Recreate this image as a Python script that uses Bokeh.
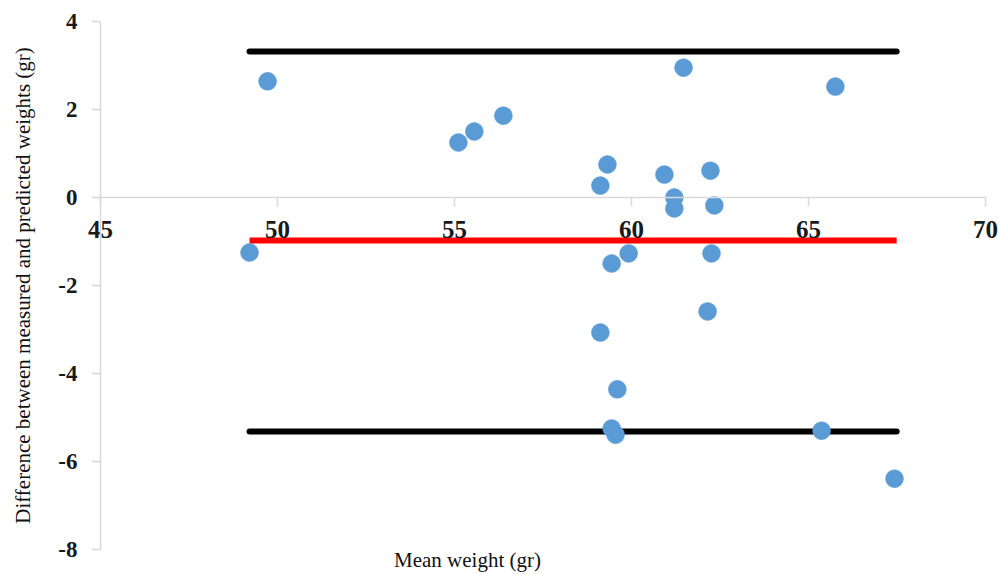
from bokeh.plotting import figure
from bokeh.models import ColumnDataSource, Label, FixedTicker, LinearAxis, Range1d
from bokeh.embed import file_html
from bokeh.resources import INLINE

# ---- data ----
mean_weight = [49.72, 49.21, 55.11, 55.56, 56.38, 59.32, 59.12, 59.44, 59.92, 59.12,
               59.60, 59.44, 59.55, 60.93, 61.21, 61.21, 61.47, 62.23, 62.34, 62.26,
               62.15, 65.76, 65.37, 67.43]
difference = [2.64, -1.25, 1.25, 1.50, 1.86, 0.75, 0.27, -1.50, -1.27, -3.07,
              -4.36, -5.25, -5.39, 0.52, 0.00, -0.25, 2.95, 0.61, -0.18, -1.27,
              -2.59, 2.52, -5.30, -6.39]
upper_loa = 3.32
mean_diff = -0.98
lower_loa = -5.32

x_ticks = [45, 50, 55, 60, 65, 70]
y_ticks = [-8, -6, -4, -2, 0, 2, 4]
y_tick_labels = ["-8", "-6", "-4", "-2", "0", "2", "4"]
x_axis_bounds = (45, 70)
y_axis_bounds = (-8, 4)

SERIF = "Liberation Serif"
AXIS_GREY = "#d9d9d9"
TEXT = "#1a1a1a"

# ---- layout: pixel positions of the axis bounds inside a 1000x574 canvas ----
W, H = 1000, 574
PX_X0, PX_X1 = 100, 985      # x = 45, x = 70
PX_Y_TOP, PX_Y_BOT = 21, 549  # y = 4, y = -8

sx = (PX_X1 - PX_X0) / (x_axis_bounds[1] - x_axis_bounds[0])
sy = (PX_Y_BOT - PX_Y_TOP) / (y_axis_bounds[1] - y_axis_bounds[0])
x_range = Range1d(x_axis_bounds[0] - PX_X0 / sx, x_axis_bounds[1] + (W - PX_X1) / sx)
y_range = Range1d(y_axis_bounds[0] - (H - PX_Y_BOT) / sy, y_axis_bounds[1] + PX_Y_TOP / sy)

p = figure(width=W, height=H, x_range=x_range, y_range=y_range,
           output_backend="svg", toolbar_location=None,
           x_axis_location=None,
           min_border_left=0, min_border_right=0,
           min_border_top=0, min_border_bottom=0)
p.grid.visible = False
p.outline_line_color = None
p.background_fill_color = "white"
p.border_fill_color = "white"

# y axis, crossing at x = 45
ya = p.yaxis[0]
ya.fixed_location = x_axis_bounds[0]
ya.bounds = y_axis_bounds
ya.ticker = FixedTicker(ticks=y_ticks)
ya.major_label_overrides = {t: s for t, s in zip(y_ticks, y_tick_labels)}
ya.major_label_text_font = SERIF
ya.major_label_text_font_style = "bold"
ya.major_label_text_font_size = "23px"
ya.major_label_text_color = TEXT
ya.major_label_standoff = 14
ya.major_tick_out = 9
ya.major_tick_in = 0
ya.minor_tick_out = 0
ya.minor_tick_in = 0
ya.axis_line_color = AXIS_GREY
ya.axis_line_width = 1.5
ya.major_tick_line_color = AXIS_GREY
ya.major_tick_line_width = 1.5
ya.axis_label = "Difference between measured and predicted weights (gr)"
ya.axis_label_text_font = SERIF
ya.axis_label_text_font_style = "normal"
ya.axis_label_text_font_size = "21px"
ya.axis_label_text_color = "#111111"
ya.axis_label_standoff = 20

# x axis, crossing at y = 0
xa = LinearAxis(fixed_location=0, bounds=x_axis_bounds, ticker=FixedTicker(ticks=x_ticks))
xa.major_label_text_font = SERIF
xa.major_label_text_font_style = "bold"
xa.major_label_text_font_size = "25px"
xa.major_label_text_color = TEXT
xa.major_label_standoff = 14
xa.major_tick_out = 9
xa.major_tick_in = 0
xa.minor_tick_out = 0
xa.minor_tick_in = 0
xa.axis_line_color = AXIS_GREY
xa.axis_line_width = 1.5
xa.major_tick_line_color = AXIS_GREY
xa.major_tick_line_width = 1.5
p.add_layout(xa, "below")

# limits of agreement and mean difference
x_lo, x_hi = min(mean_weight), max(mean_weight) + 0.06
p.segment(x0=[x_lo, x_lo], y0=[upper_loa, lower_loa], x1=[x_hi, x_hi], y1=[upper_loa, lower_loa],
          line_color="black", line_width=6, line_cap="round")
p.segment(x0=[x_lo], y0=[mean_diff], x1=[x_hi], y1=[mean_diff],
          line_color="#ff0000", line_width=6, line_cap="butt")

# points
src = ColumnDataSource(dict(x=mean_weight, y=difference))
p.scatter("x", "y", source=src, size=18, fill_color="#5b9bd5", line_color="#5b9bd5", line_width=0.5)

# x axis title
p.add_layout(Label(x=x_axis_bounds[0] + (467 - PX_X0) / sx, y=y_axis_bounds[0] - (559 - PX_Y_BOT) / sy,
                   text="Mean weight (gr)", text_align="center", text_baseline="middle",
                   text_font=SERIF, text_font_size="21px", text_color="#111111"))

open("out.html", "w").write(file_html(p, INLINE))
